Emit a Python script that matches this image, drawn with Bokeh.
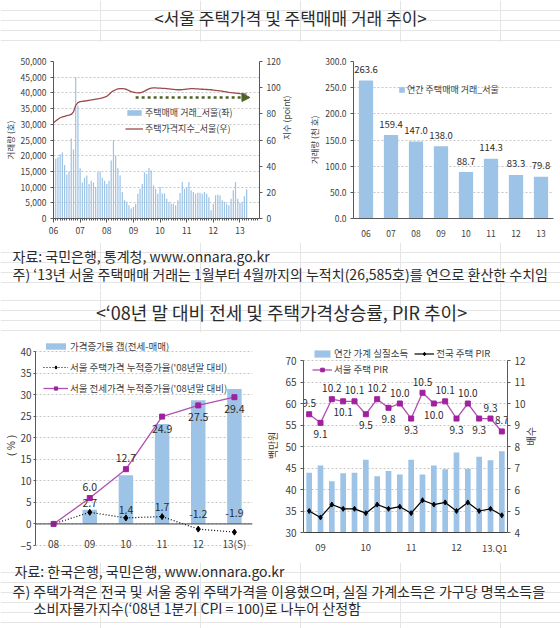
import math
from bokeh.plotting import figure
from bokeh.layouts import column, row
from bokeh.models import (ColumnDataSource, LinearAxis, Range1d, Legend, LegendItem,
                          Span, Arrow, NormalHead, FixedTicker, NumeralTickFormatter)
from bokeh.core.properties import value
from bokeh.embed import file_html
from bokeh.resources import INLINE

FONT = "Noto Sans CJK KR"
TEXT_DARK = "#2b2b2b"
TICK_GRAY = "#404040"
AXIS_GRAY = "#595959"
GRID_GRAY = "#c4c4c4"
BAR_BLUE = "#9dc3e6"
PRICE_RED = "#9b4a4a"
TREND_GREEN = "#4f6228"
PURPLE_LINE = "#b050b0"
PURPLE_MARK = "#a020a0"

# ---------------------------------------------------------------- data
# monthly Seoul housing trades (호), Jan 2006 - Apr 2013
trades_2006 = [3500, 19000, 19500, 20500, 21000, 17000, 14000, 15000, 25500, 22000, 45000, 36000]
trades_2007 = [16000, 11500, 13000, 13700, 11000, 12000, 11500, 10000, 14700, 15000, 13000, 12000]
trades_2008 = [11000, 12000, 18500, 25000, 20000, 16000, 13700, 8400, 5800, 5300, 4200, 3200]
trades_2009 = [3700, 4700, 7900, 9500, 11000, 14700, 14200, 16100, 15300, 10500, 9500, 7900]
trades_2010 = [10000, 8000, 8000, 6300, 5300, 4700, 4700, 4200, 5800, 8100, 11600, 9500]
trades_2011 = [10000, 11600, 9000, 8400, 7900, 8200, 8200, 7900, 8400, 7900, 6800, 2600]
trades_2012 = [4700, 7400, 7600, 7400, 5800, 5300, 4700, 4200, 6300, 9000, 11600, 6300]
trades_2013 = [4900, 5300, 7100, 9285]
seoul_trades = (trades_2006 + trades_2007 + trades_2008 + trades_2009 +
                trades_2010 + trades_2011 + trades_2012 + trades_2013)

# Seoul housing price index (point), same months
price_index = [
    73.2, 74.5, 75.8, 77.0, 77.6, 78.1, 78.6, 79.0, 79.5, 81.5, 86.5, 88.6,
    89.3, 89.6, 89.8, 90.0, 90.3, 90.6, 90.9, 91.2, 91.5, 91.8, 92.2, 92.7,
    93.4, 94.8, 96.5, 97.6, 98.4, 99.0, 99.2, 99.2, 99.0, 98.6, 97.8, 97.0,
    96.5, 96.2, 96.0, 96.1, 96.6, 97.4, 98.3, 99.1, 99.6, 99.8, 99.8, 99.7,
    99.6, 99.5, 99.4, 99.3, 99.1, 98.9, 98.7, 98.5, 98.4, 98.4, 98.5, 98.7,
    98.9, 99.1, 99.2, 99.2, 99.1, 99.0, 98.9, 98.8, 98.7, 98.6, 98.5, 98.4,
    98.2, 98.0, 97.8, 97.6, 97.3, 97.0, 96.7, 96.4, 96.2, 96.0, 95.8, 95.6,
    95.4, 95.3, 95.2, 95.1,
]
year_tick_labels = ["06", "07", "08", "09", "10", "11", "12", "13"]
trend_months = [37, 88.5]      # flat-trend arrow, month index
trend_level = 92.5             # index level of the arrow

# annual Seoul housing trades (thousand)
annual_years = ["06", "07", "08", "09", "10", "11", "12", "13"]
annual_trades = [263.6, 159.4, 147.0, 138.0, 88.7, 114.3, 83.3, 79.8]

# cumulative growth since end-2008 (%)
growth_years = ["08", "09", "10", "11", "12", "13(S)"]
gap_rate = [0.0, 3.3, 11.3, 23.2, 28.7, 31.3]
price_growth = [0.0, 2.7, 1.4, 1.7, -1.2, -1.9]
jeonse_growth = [0.0, 6.0, 12.7, 24.9, 27.5, 29.4]
growth_axis = (-5, 40)

# quarterly real household income (백만원) and PIR
quarters = ["08.Q4", "09.Q1", "09.Q2", "09.Q3", "09.Q4", "10.Q1", "10.Q2", "10.Q3", "10.Q4",
            "11.Q1", "11.Q2", "11.Q3", "11.Q4", "12.Q1", "12.Q2", "12.Q3", "12.Q4", "13.Q1"]
real_income = [43.9, 45.6, 41.9, 43.8, 43.9, 46.9, 43.1, 44.3, 43.5,
               46.9, 43.5, 45.6, 44.7, 48.6, 44.8, 47.6, 46.8, 48.9]
national_pir = [5.0, 4.7, 5.3, 5.1, 5.1, 4.9, 5.3, 5.1, 5.2,
                4.9, 5.5, 5.3, 5.4, 5.0, 5.4, 5.0, 5.1, 4.8]
seoul_pir = [9.5, 9.1, 10.2, 10.1, 10.1, 9.5, 10.2, 9.8, 10.0,
             9.3, 10.5, 10.0, 10.1, 9.3, 10.0, 9.3, 9.3, 8.7]
quarter_tick_labels = {"09.Q1": "09", "10.Q1": "10", "11.Q1": "11", "12.Q1": "12", "13.Q1": "13.Q1"}
income_axis = (30, 70)
pir_axis = (4, 12)


# ---------------------------------------------------------------- helpers
def make_fig(width, height, left, right, top, bottom, **kw):
    p = figure(width=width, height=height, output_backend="svg", toolbar_location=None,
               min_border_left=left, min_border_right=right, min_border_top=top,
               min_border_bottom=bottom, **kw)
    p.outline_line_color = None
    p.background_fill_color = "white"
    p.border_fill_color = "white"
    p.xgrid.visible = False
    p.ygrid.grid_line_color = GRID_GRAY
    p.ygrid.grid_line_dash = "2 2"
    return p


def style_axis(ax, size):
    ax.axis_line_color = AXIS_GRAY
    ax.major_tick_line_color = AXIS_GRAY
    ax.major_tick_in = 0
    ax.major_tick_out = 3
    ax.minor_tick_line_color = None
    ax.major_label_text_font = FONT
    ax.major_label_text_font_size = size
    ax.major_label_text_color = TICK_GRAY
    ax.major_label_standoff = 4
    ax.axis_label_text_font = FONT
    ax.axis_label_text_font_size = size
    ax.axis_label_text_font_style = "normal"
    ax.axis_label_text_color = TICK_GRAY
    ax.axis_label_standoff = 2


def upward_title(ax, text):
    # right-hand axis title that reads bottom-to-top, like the left one
    ax.axis_label = text
    try:
        ax.axis_label_orientation = math.pi / 2
    except AttributeError:
        pass


def stretched(lo, hi, span_px, top_px, bottom_px):
    # range whose lo..hi part spans span_px, with extra room above and below the axis
    per_px = (hi - lo) / span_px
    return Range1d(lo - bottom_px * per_px, hi + top_px * per_px)


def add_legend(p, items, loc, size, **kw):
    lg = Legend(items=items, location=loc, background_fill_alpha=0, border_line_alpha=0,
                padding=0, margin=0, label_text_font=FONT, label_text_font_size=size,
                label_text_color=TICK_GRAY, **kw)
    p.add_layout(lg)
    return lg


def value_labels(p, xs, ys, texts, offsets, size, color=TEXT_DARK, dx=None, **kw):
    src = ColumnDataSource(dict(x=xs, y=ys, t=texts, dy=offsets,
                                dx=dx if dx is not None else [0] * len(xs)))
    p.text(x="x", y="y", text="t", x_offset="dx", y_offset="dy", source=src,
           text_font=value(FONT), text_font_size=size, text_color=color,
           text_align="center", text_baseline="middle", **kw)


def text_panel(width, height, lines):
    p = figure(width=width, height=height, output_backend="svg", toolbar_location=None,
               x_range=Range1d(0, width), y_range=Range1d(height, 0),
               x_axis_location=None, y_axis_location=None, min_border=0)
    p.outline_line_color = None
    p.background_fill_color = "white"
    p.border_fill_color = "white"
    for x, y, s, size, align in lines:
        p.text(x=[x], y=[y], text=[s], text_font=value(FONT), text_font_size=size,
               text_color=TEXT_DARK, text_align=align, text_baseline="middle")
    return p


# ---------------------------------------------------------------- monthly trades + price index
months = list(range(len(seoul_trades)))
pa = make_fig(300, 200, 52, 38, 19, 24, x_range=Range1d(0, 92.8), y_range=Range1d(0, 50000))
pa.extra_y_ranges = {"index": Range1d(0, 120)}
bars_a = pa.vbar(x=months, top=seoul_trades, width=0.55, fill_color=BAR_BLUE, line_color=None)
line_a = pa.line(x=months, y=price_index, y_range_name="index", line_color=PRICE_RED, line_width=1.3)
pa.add_layout(Arrow(end=NormalHead(size=8, fill_color=TREND_GREEN, line_color=TREND_GREEN),
                    x_start=trend_months[0], y_start=trend_level,
                    x_end=trend_months[1], y_end=trend_level, y_range_name="index",
                    line_color=TREND_GREEN, line_width=2.5, line_dash="3 3"))

pa.yaxis.ticker = FixedTicker(ticks=list(range(0, 50001, 5000)))
pa.yaxis.formatter = NumeralTickFormatter(format="0,0")
pa.yaxis.axis_label = "거래량 (호)"
ax_idx = LinearAxis(y_range_name="index", ticker=FixedTicker(ticks=list(range(0, 121, 20))))
pa.add_layout(ax_idx, "right")
year_ticks = [12 * k for k in range(len(year_tick_labels))]
pa.xaxis.ticker = FixedTicker(ticks=year_ticks, minor_ticks=list(range(0, 93)))
pa.xaxis.major_label_overrides = dict(zip(year_ticks, year_tick_labels))
for ax in pa.axis:
    style_axis(ax, "8.5px")
pa.xaxis.major_tick_out = 4
pa.xaxis.minor_tick_line_color = AXIS_GRAY
pa.xaxis.minor_tick_in = 0
pa.xaxis.minor_tick_out = 2
upward_title(ax_idx, "지수 (point)")
add_legend(pa, [LegendItem(label="주택매매 거래_서울(좌)", renderers=[bars_a]),
                LegendItem(label="주택가격지수_서울(우)", renderers=[line_a])],
           (72, 82), "9px", glyph_width=18, glyph_height=7, label_height=16,
           label_standoff=2, spacing=0)

# ---------------------------------------------------------------- annual trades
pb = make_fig(260, 200, 53, 7, 19, 24, x_range=annual_years, y_range=Range1d(0, 300))
bars_b = pb.vbar(x=annual_years, top=annual_trades, width=0.57, fill_color=BAR_BLUE, line_color=None)
value_labels(pb, annual_years, annual_trades, [f"{v:.1f}" for v in annual_trades],
             [-11] * len(annual_trades), "9.5px")
pb.yaxis.ticker = FixedTicker(ticks=list(range(0, 301, 50)))
pb.yaxis.formatter = NumeralTickFormatter(format="0.0")
pb.yaxis.axis_label = "거래량 (천 호)"
for ax in pb.axis:
    style_axis(ax, "8.5px")
pb.xaxis.major_tick_line_color = None
pb.xaxis.major_label_standoff = 8
add_legend(pb, [LegendItem(label="연간 주택매매 거래_서울", renderers=[bars_b])],
           (45, 122), "9px", glyph_width=7, glyph_height=7, label_height=12, label_standoff=2)

# ---------------------------------------------------------------- cumulative growth
# both lower charts share frame top/bottom (334..556 px); axis spans are set inside that
pc = make_fig(262, 230, 35, 10, 2, 6, x_range=growth_years,
              y_range=stretched(growth_axis[0], growth_axis[1], 194, 17, 11), x_axis_location=None)
bars_c = pc.vbar(x=growth_years, top=gap_rate, width=0.4, fill_color=BAR_BLUE, line_color=None)
pc.add_layout(Span(location=0, dimension="width", line_color="#404040", line_width=1))
price_line = pc.line(x=growth_years, y=price_growth, line_color="black", line_width=1.2, line_dash="1 2")
price_pts = pc.scatter(x=growth_years, y=price_growth, marker="diamond", size=6, color="black")
jeonse_line = pc.line(x=growth_years, y=jeonse_growth, line_color=PURPLE_LINE, line_width=1.3)
jeonse_pts = pc.scatter(x=growth_years, y=jeonse_growth, marker="square", size=5, color=PURPLE_MARK)
value_labels(pc, growth_years[1:], jeonse_growth[1:], [f"{v:.1f}" for v in jeonse_growth[1:]],
             [-11, -11, 12, 12, 12], "10.5px")
value_labels(pc, growth_years[1:], price_growth[1:], [f"{v:.1f}" for v in price_growth[1:]],
             [-9, -8, -10, -15, -19], "10.5px")
# category names sit on the bottom of the value axis
value_labels(pc, growth_years, [growth_axis[0]] * len(growth_years), growth_years,
             [-2] * len(growth_years), "10px", color=TICK_GRAY)
pc.yaxis.ticker = FixedTicker(ticks=list(range(growth_axis[0], growth_axis[1] + 1, 5)))
pc.yaxis.bounds = growth_axis
pc.yaxis.axis_label = "( % )"
for ax in pc.axis:
    style_axis(ax, "10px")
pc.yaxis.major_tick_out = 2
pc.yaxis.major_label_standoff = 2
pc.yaxis.axis_label_standoff = 0
pc.yaxis.axis_label_text_font = "Liberation Sans"
add_legend(pc, [LegendItem(label="가격증가율 갭(전세-매매)", renderers=[bars_c]),
                LegendItem(label="서울 주택가격 누적증가율('08년말 대비)", renderers=[price_line, price_pts]),
                LegendItem(label="서울 전세가격 누적증가율('08년말 대비)", renderers=[jeonse_line, jeonse_pts])],
           (8, 158), "9.5px", glyph_width=25, glyph_height=8, label_height=21,
           label_standoff=2, spacing=0)

# ---------------------------------------------------------------- income and PIR
q_idx = list(range(len(quarters)))
pdq = make_fig(298, 230, 37, 53, 2, 6, x_range=Range1d(-0.5, len(quarters) - 0.5),
               y_range=stretched(income_axis[0], income_axis[1], 172, 26, 24), x_axis_location=None)
pdq.extra_y_ranges = {"pir": stretched(pir_axis[0], pir_axis[1], 172, 26, 24)}
bars_d = pdq.vbar(x=q_idx, top=real_income, bottom=income_axis[0], width=0.5,
                  fill_color=BAR_BLUE, line_color=None)
pdq.add_layout(Span(location=income_axis[0], dimension="width", line_color="#404040", line_width=1))
nat_line = pdq.line(x=q_idx, y=national_pir, y_range_name="pir", line_color="black", line_width=1.2)
nat_pts = pdq.scatter(x=q_idx, y=national_pir, y_range_name="pir", marker="diamond", size=5, color="black")
seo_line = pdq.line(x=q_idx, y=seoul_pir, y_range_name="pir", line_color=PURPLE_LINE, line_width=1.3)
seo_pts = pdq.scatter(x=q_idx, y=seoul_pir, y_range_name="pir", marker="square", size=5, color=PURPLE_MARK)
pir_offsets = [-11 if (i % 2 == 0 or i == len(seoul_pir) - 1) else 11 for i in q_idx]
value_labels(pdq, q_idx, seoul_pir, [f"{v:.1f}" for v in seoul_pir], pir_offsets, "10px",
             y_range_name="pir")
q_ticks = [quarters.index(q) for q in quarter_tick_labels]
q_tick_shift = [0] * (len(q_ticks) - 1) + [-7]   # keep the last name inside the frame
value_labels(pdq, q_ticks, [income_axis[0]] * len(q_ticks), list(quarter_tick_labels.values()),
             [15] * len(q_ticks), "9.5px", color=TICK_GRAY, dx=q_tick_shift)
ax_inc = pdq.yaxis[0]
ax_inc.ticker = FixedTicker(ticks=list(range(income_axis[0], income_axis[1] + 1, 5)))
ax_inc.bounds = income_axis
ax_inc.axis_label = "백만원"
ax_pir = LinearAxis(y_range_name="pir", ticker=FixedTicker(ticks=list(range(pir_axis[0], pir_axis[1] + 1))),
                    bounds=pir_axis)
pdq.add_layout(ax_pir, "right")
for ax in pdq.axis:
    style_axis(ax, "10px")
upward_title(ax_pir, "배수")
add_legend(pdq, [LegendItem(label="연간 가계 실질소득", renderers=[bars_d]),
                 LegendItem(label="전국 주택 PIR", renderers=[nat_line, nat_pts])],
           (9, 196), "9.5px", orientation="horizontal", glyph_width=20, glyph_height=9,
           label_height=14, label_standoff=2, spacing=6)
add_legend(pdq, [LegendItem(label="서울 주택 PIR", renderers=[seo_line, seo_pts])],
           (9, 180), "9.5px", glyph_width=20, glyph_height=9, label_height=14, label_standoff=2)

# ---------------------------------------------------------------- titles and notes
title_top = text_panel(560, 42, [(290, 17, "<서울 주택가격 및 주택매매 거래 추이>", "17px", "center")])
notes_top = text_panel(560, 48, [
    (12, 13, "자료: 국민은행, 통계청, www.onnara.go.kr", "14px", "left"),
    (12, 31, "주) ‘13년 서울 주택매매 거래는 1월부터 4월까지의 누적치(26,585호)를 연으로 환산한 수치임", "14px", "left"),
])
title_mid = text_panel(560, 42, [(281, 21, "<‘08년 말 대비 전세 및 주택가격상승률, PIR 추이>", "18px", "center")])
notes_bottom = text_panel(560, 66, [
    (14, 8, "자료: 한국은행, 국민은행, www.onnara.go.kr", "14px", "left"),
    (12, 28, "주) 주택가격은 전국 및 서울 중위 주택가격을 이용했으며, 실질 가계소득은 가구당 명목소득을", "14px", "left"),
    (33, 45, "소비자물가지수(‘08년 1분기 CPI = 100)로 나누어 산정함", "14px", "left"),
])

page = column(title_top, row(pa, pb), notes_top, title_mid, row(pc, pdq), notes_bottom)

with open("out.html", "w") as f:
    f.write(file_html(page, INLINE))
